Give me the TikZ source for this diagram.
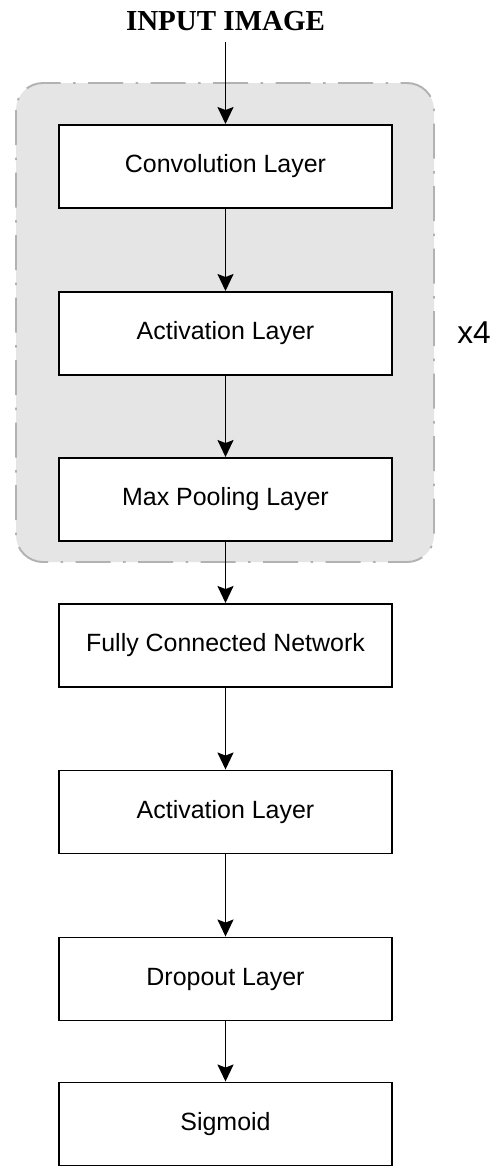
\documentclass[tikz,border=0pt]{standalone}
\usepackage{fontspec}
\setmainfont{Liberation Serif}
\setsansfont{Liberation Sans}
\usetikzlibrary{positioning,arrows.meta}

\begin{document}
\begin{tikzpicture}[
  font=\sffamily\fontsize{14.2}{17}\selectfont,
  layer/.style={
    draw, line width=1.1pt,
    minimum width=6.66cm, minimum height=1.66cm,
    align=center, fill=white,
  },
  flow/.style={-{Stealth[length=0.34cm,width=0.32cm,inset=0.06cm]}, line width=1pt},
  repeatbox/.style={
    fill=black!10, draw=black!30, line width=1.1pt, rounded corners=0.54cm,
    dash pattern=on 0.7cm off 0.25cm on 0.05cm off 0.25cm,
  },
]
\useasboundingbox (0,0) rectangle (10,-23.32);

% repeated block
\draw[repeatbox] (0.32,-1.66) rectangle (8.68,-11.24);

\node[font=\rmfamily\bfseries\fontsize{16.5}{19}\selectfont, anchor=base, inner sep=0.23cm] (title) at (4.51,-0.6) {INPUT IMAGE};
\node[layer] (conv) at (4.51,-3.33) {Convolution Layer};
\node[layer] (act1) at (4.51,-6.67) {Activation Layer};
\node[layer] (pool) at (4.51,-9.99) {Max Pooling Layer};
\node[layer] (fcn)  at (4.51,-12.91) {Fully Connected Network};
\node[layer] (act2) at (4.51,-16.24) {Activation Layer};
\node[layer] (drop) at (4.51,-19.58) {Dropout Layer};
\node[layer] (sig)  at (4.51,-22.48) {Sigmoid};
\node[font=\sffamily\fontsize{18}{21}\selectfont] (times) at (9.48,-6.66) {x4};

\draw[flow] (title.south) -- (conv.north);
\draw[flow] (conv) -- (act1);
\draw[flow] (act1) -- (pool);
\draw[flow] (pool) -- (fcn);
\draw[flow] (fcn) -- (act2);
\draw[flow] (act2) -- (drop);
\draw[flow] (drop) -- (sig);

\end{tikzpicture}
\end{document}
